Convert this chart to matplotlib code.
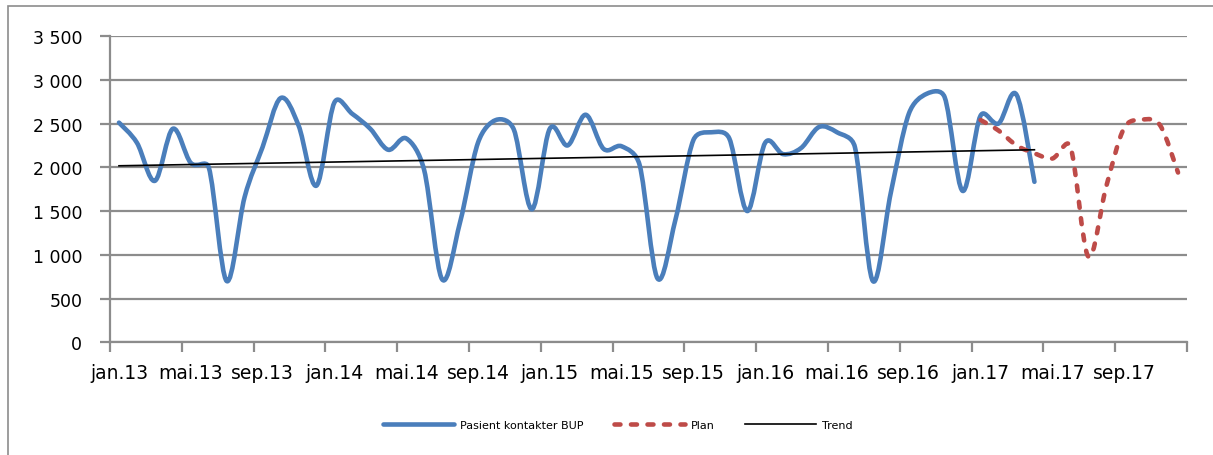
import numpy as np
import matplotlib
matplotlib.use("Agg")
import matplotlib.pyplot as plt
from matplotlib.path import Path
from matplotlib.patches import PathPatch, Rectangle
from matplotlib.lines import Line2D

plt.rcParams['font.family'] = ['DejaVu Sans']

# monthly values, jan.13 .. apr.17
kontakter = [2510, 2280, 1845, 2440, 2050, 2000, 700, 1660, 2230, 2790, 2480, 1790,
             2740, 2610, 2440, 2200, 2330, 1970, 720, 1370, 2280, 2540, 2430, 1520,
             2440, 2250, 2600, 2210, 2240, 2030, 730, 1400, 2310, 2400, 2330, 1500,
             2280, 2150, 2220, 2460, 2400, 2230, 700, 1710, 2610, 2840, 2800, 1730,
             2590, 2500, 2830, 1834]
# plan for 2017, jan.17 .. dec.17
plan = [2540, 2420, 2250, 2160, 2100, 2240, 980, 1780, 2450, 2545, 2480, 1940]
plan_start = 48
# trend series, first and last month
trend = [2017, 2200]

tick_labels = ['jan.13', 'mai.13', 'sep.13', 'jan.14', 'mai.14', 'sep.14',
               'jan.15', 'mai.15', 'sep.15', 'jan.16', 'mai.16', 'sep.16',
               'jan.17', 'mai.17', 'sep.17']

BLUE = '#4a7ebb'
RED = '#be4b48'
GRID = '#8c8c8c'
PLAN_DASH = (0, (1.3, 2.3))


def smooth_path(ax, x, y):
    # cubic Bezier through every point; tension 1/6, capped at half the
    # on-screen segment length so short segments don't overshoot
    pts = np.column_stack([x, y]).astype(float)
    scr = ax.transData.transform(pts)
    n = len(pts)
    verts = [pts[0]]
    codes = [Path.MOVETO]
    for i in range(n - 1):
        j0 = max(i - 1, 0)
        j3 = min(i + 2, n - 1)
        p0, p1, p2, p3 = pts[j0], pts[i], pts[i + 1], pts[j3]
        d12 = np.hypot(*(scr[i + 1] - scr[i]))
        d02 = np.hypot(*(scr[i + 1] - scr[j0]))
        d13 = np.hypot(*(scr[j3] - scr[i]))
        f = min(1 / 6, d12 / (2 * d02)) if d02 > 0 else 0
        g = min(1 / 6, d12 / (2 * d13)) if d13 > 0 else 0
        verts += [p1 + (p2 - p0) * f, p2 - (p3 - p1) * g, p2]
        codes += [Path.CURVE4] * 3
    return Path(verts, codes)


fig = plt.figure(figsize=(12.13, 4.56), dpi=100)
ax = fig.add_axes([110 / 1213, 1 - 343.3 / 456, 1077 / 1213, 306.3 / 456])
ax.set_xlim(0, 60)
ax.set_ylim(0, 3500)

# months are drawn at the middle of their slot
x_k = np.arange(len(kontakter)) + 0.5
x_p = np.arange(len(plan)) + plan_start + 0.5
x_t = [x_k[0], x_k[-1]]

ax.add_patch(PathPatch(smooth_path(ax, x_k, kontakter), fill=False, edgecolor=BLUE,
                       linewidth=3.3, capstyle='round', joinstyle='round', zorder=3))
ax.add_patch(PathPatch(smooth_path(ax, x_p, plan), fill=False, edgecolor=RED,
                       linewidth=3.3, linestyle=PLAN_DASH, capstyle='round',
                       joinstyle='round', zorder=3))
ax.plot(x_t, trend, color='black', linewidth=1.2, zorder=4)

ax.set_yticks(np.arange(0, 3501, 500))
ax.set_yticklabels([f"{v:,}".replace(",", " ") for v in range(0, 3501, 500)])
ax.yaxis.grid(True, color=GRID, linewidth=1.6)
ax.set_axisbelow(True)

ax.set_xticks(np.arange(0, 61, 4))
ax.set_xticklabels([])
ax.set_xticks(np.arange(0, 60, 4) + 0.5, minor=True)
ax.set_xticklabels(tick_labels, minor=True)
ax.tick_params(axis='x', which='minor', length=0, pad=15, labelsize=13.5)
ax.tick_params(axis='x', which='major', length=7, width=1.6, color=GRID, direction='out')
ax.tick_params(axis='y', length=7, width=1.6, color=GRID, pad=13, labelsize=12.5)

for side in ['top', 'right']:
    ax.spines[side].set_visible(False)
for side in ['left', 'bottom']:
    ax.spines[side].set_color(GRID)
    ax.spines[side].set_linewidth(1.6)

handles = [
    Line2D([], [], color=BLUE, linewidth=3.3, solid_capstyle='round'),
    Line2D([], [], color=RED, linewidth=3.3, linestyle=PLAN_DASH, dash_capstyle='round'),
    Line2D([], [], color='black', linewidth=1.2),
]
fig.legend(handles, ['Pasient kontakter BUP', 'Plan', 'Trend'], ncol=3,
           loc='center', bbox_to_anchor=(618 / 1213, 1 - 426 / 456), frameon=False,
           fontsize=8, handlelength=6.4, handletextpad=0.55, columnspacing=2.7)

# chart area border
fig.patches.append(Rectangle((8 / 1213, -0.1), 1.2, 1.1 - 7 / 456, transform=fig.transFigure,
                             fill=False, edgecolor=GRID, linewidth=1.2))

fig.savefig('out.png', dpi=100)
